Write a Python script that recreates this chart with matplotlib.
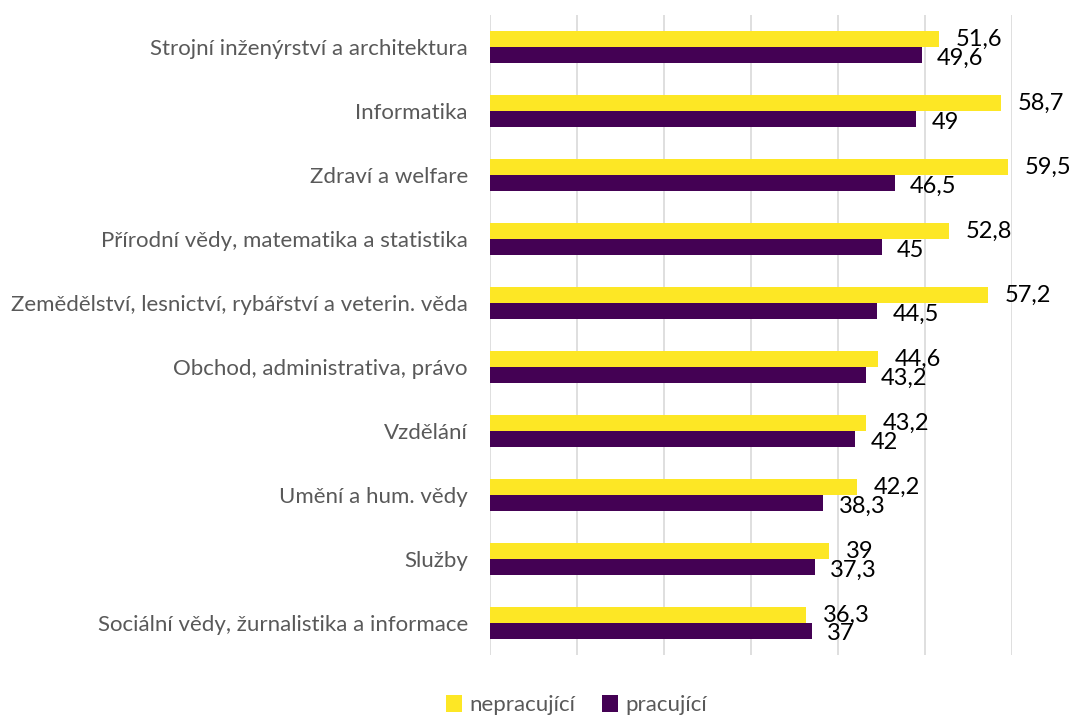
import matplotlib.pyplot as plt
import numpy as np

categories = ['Strojní inženýrství a architektura', 'Informatika', 'Zdraví a welfare',
              'Přírodní vědy, matematika a statistika',
              'Zemědělství, lesnictví, rybářství a veterin. věda',
              'Obchod, administrativa, právo', 'Vzdělání', 'Umění a hum. vědy',
              'Služby', 'Sociální vědy, žurnalistika a informace']
nepracujici = [51.6, 58.7, 59.5, 52.8, 57.2, 44.6, 43.2, 42.2, 39, 36.3]
pracujici = [49.6, 49, 46.5, 45, 44.5, 43.2, 42, 38.3, 37.3, 37]

plt.rcParams['font.family'] = ['Lato', 'DejaVu Sans']

fig = plt.figure(figsize=(10.87, 7.28), dpi=100)
ax = fig.add_axes([0.4508, 0.100, 0.4802, 0.879])

y = np.arange(len(categories))
h = 0.25
ax.barh(y - h / 2, nepracujici, height=h, color='#FDE725', label='nepracující')
ax.barh(y + h / 2, pracujici, height=h, color='#440154', label='pracující')

for yi, v in zip(y, nepracujici):
    ax.annotate(str(v).replace('.', ','), (v, yi - h / 2), xytext=(12, 0),
                textcoords='offset points', va='center', ha='left', fontsize=17, color='black')
for yi, v in zip(y, pracujici):
    ax.annotate(str(v).replace('.', ','), (v, yi + h / 2), xytext=(11, -2),
                textcoords='offset points', va='center', ha='left', fontsize=17, color='black')

ax.set_xlim(0, 60)
ax.set_ylim(len(categories) - 0.5, -0.5)
ax.set_xticks(np.arange(0, 61, 10))
ax.set_xticklabels([])
ax.tick_params(axis='x', length=0)
ax.set_yticks(y)
ax.set_yticklabels(categories, fontsize=16, color='#595959')
ax.tick_params(axis='y', length=0, pad=16)
ax.grid(axis='x', color='#d9d9d9', linewidth=1.2)
ax.set_axisbelow(True)
for s in ax.spines.values():
    s.set_visible(False)

fig.legend(loc='lower center', bbox_to_anchor=(0.53, -0.01), ncol=2, frameon=False,
           fontsize=16, handlelength=0.75, handleheight=0.75, handletextpad=0.3,
           columnspacing=1.2, labelcolor='#595959')

fig.savefig('out.png', dpi=100)
